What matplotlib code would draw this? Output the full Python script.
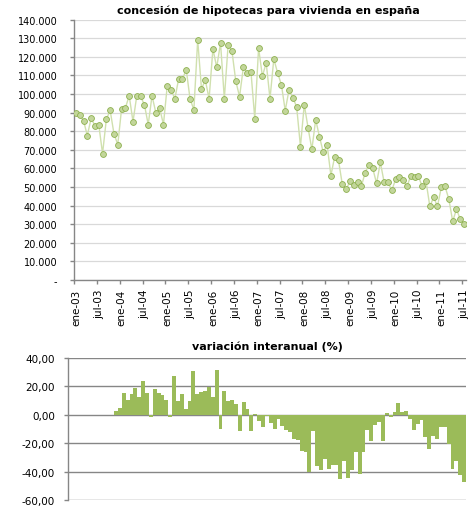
import matplotlib
matplotlib.use('Agg')
import matplotlib.pyplot as plt
import numpy as np

# ---------------- data ----------------
hipotecas = [
    90000, 88600, 85700, 77700, 87000, 83000, 83600, 68000, 86400, 91200, 78700, 72800,      # 2003
    92100, 92500, 99100, 85200, 99100, 98700, 94300, 83600, 99100, 90000, 92500, 83600,      # 2004
    104400, 102300, 97500, 108200, 108200, 113000, 97300, 91600, 129100, 102800, 107500, 97500,  # 2005
    124300, 114400, 127500, 97500, 126400, 123200, 107100, 98600, 114400, 111400, 111900, 86800,  # 2006
    124800, 109600, 116800, 97500, 118900, 111400, 105000, 91100, 102300, 98000, 93200, 71800,   # 2007
    94300, 81900, 70200, 86200, 77100, 68600, 72800, 56200, 66400, 64300, 51400, 48700,      # 2008
    53000, 50900, 52500, 50300, 57800, 62100, 60000, 52000, 63200, 52500, 52500, 48200,      # 2009
    54100, 55200, 53600, 50300, 56200, 55200, 55700, 50300, 53000, 39600, 44500, 39600,      # 2010
    49800, 50300, 43400, 31600, 38000, 32700, 30000,                                         # 2011
]

variacion = [
    2.4, 4.8, 15.2, 10.2, 14.5, 18.8, 12.4, 23.8, 15.2, -1.7, 18.1, 15.2,          # 2004
    13.8, 10.2, -1.7, 27.4, 9.5, 14.5, 3.8, 9.5, 30.9, 14.5, 15.9, 16.7,           # 2005
    19.5, 12.4, 31.6, -10.1, 16.7, 9.5, 10.2, 7.4, -11.5, 8.8, 3.8, -11.5,         # 2006
    0.4, -4.6, -8.7, -0.5, -5.9, -10.1, -2.8, -8.2, -10.6, -12.4, -16.7, -17.5,    # 2007
    -25.3, -25.9, -40.3, -11.7, -35.8, -38.7, -30.8, -38.0, -35.4, -35.0, -45.1, -32.8,  # 2008
    -44.5, -38.7, -25.9, -41.5, -25.9, -10.4, -18.7, -7.3, -5.2, -18.5, 1.6, -1.5, # 2009
    2.3, 8.0, 2.3, 3.0, -2.8, -10.6, -6.6, -3.7, -15.7, -23.9, -15.0, -16.8,       # 2010
    -8.4, -8.9, -20.4, -38.1, -32.5, -42.4, -47.3,                                 # 2011
]

etiquetas_x = ['ene-03', 'jul-03', 'ene-04', 'jul-04', 'ene-05', 'jul-05',
               'ene-06', 'jul-06', 'ene-07', 'jul-07', 'ene-08', 'jul-08',
               'ene-09', 'jul-09', 'ene-10', 'jul-10', 'ene-11', 'jul-11']

titulo1 = 'concesión de hipotecas para vivienda en españa'
titulo2 = 'variación interanual (%)'

# ---------------- figure ----------------
W, H = 477, 510
fig = plt.figure(figsize=(W / 100, H / 100), dpi=100)
fig.patch.set_facecolor('white')

axis_col = '#868686'
n = len(hipotecas)
x = np.arange(n)

# top chart
ax1 = fig.add_axes([74 / W, 1 - 281 / H, (466 - 74) / W, (281 - 20.7) / H])
ax1.plot(x, hipotecas, color='#d0e0ae', lw=1.0, marker='o', ms=4.2,
         mfc='#c3d69b', mec='#8db04e', mew=0.6, zorder=3)
ax1.set_xlim(-0.5, n - 0.5)
ax1.set_ylim(0, 140000)
yt = np.arange(0, 140001, 10000)
ax1.set_yticks(yt)
ax1.set_yticklabels(['-' if v == 0 else f'{v:,.0f}'.replace(',', '.') for v in yt],
                    fontsize=7)
ax1.grid(axis='y', color='#d9d9d9', lw=0.9)
ax1.set_axisbelow(True)
for s in ['top', 'right']:
    ax1.spines[s].set_visible(False)
for s in ['left', 'bottom']:
    ax1.spines[s].set_color(axis_col)
    ax1.spines[s].set_linewidth(1.0)
# tick marks at category boundaries, labels at category centers
step = 6
ax1.set_xticks(np.arange(-0.5, n, step))
ax1.set_xticklabels([])
ax1.set_xticks(np.arange(0, n, step), minor=True)
ax1.set_xticklabels(etiquetas_x, minor=True, rotation=90, fontsize=7.5)
ax1.tick_params(axis='x', which='major', length=3, color=axis_col, width=1)
ax1.tick_params(axis='x', which='minor', length=0, pad=6)
ax1.tick_params(axis='y', length=3, color=axis_col, width=1, pad=9)

fig.text(268 / W, 1 - 11 / H, titulo1, ha='center', va='center',
         fontsize=8, fontweight='bold')

# bottom chart
ax2 = fig.add_axes([67.7 / W, 1 - 501 / H, (466 - 67.7) / W, (501 - 359) / H])
xb = np.arange(n - len(variacion), n)
ax2.bar(xb, variacion, width=1.0, color='#9bbb59', lw=0, zorder=3)
ax2.set_xlim(-0.5, n - 0.5)
ax2.set_ylim(-60, 40)
yt2 = np.arange(-60, 41, 20)
ax2.set_yticks(yt2)
ax2.set_yticklabels([f'{v:.2f}'.replace('.', ',') for v in yt2], fontsize=7.5)
ax2.grid(axis='y', color=axis_col, lw=1.0, zorder=1)
ax2.set_axisbelow(True)
ax2.set_xticks([])
for s in ['top', 'right', 'bottom']:
    ax2.spines[s].set_visible(False)
ax2.spines['left'].set_color(axis_col)
ax2.spines['left'].set_linewidth(1.0)
ax2.tick_params(axis='y', length=3, color=axis_col, width=1, pad=6)

fig.text(267 / W, 1 - 347 / H, titulo2, ha='center', va='center',
         fontsize=8, fontweight='bold')

fig.savefig('out.png', dpi=100, facecolor='white')
